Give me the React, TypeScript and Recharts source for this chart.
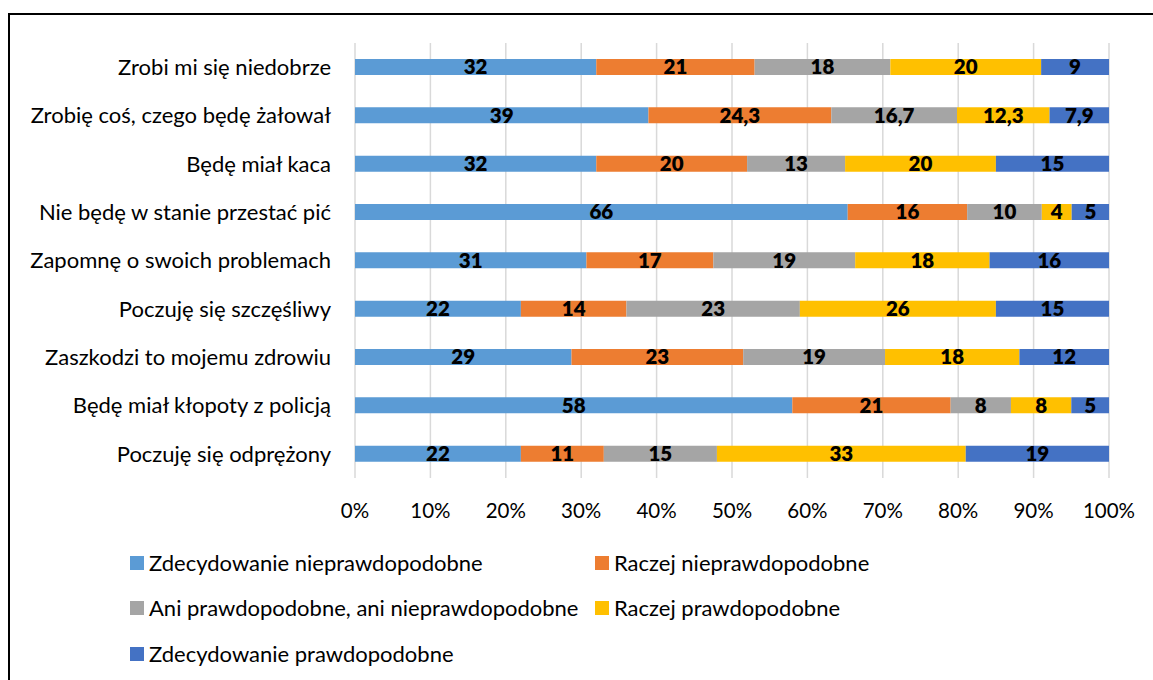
import React from 'react';
import { BarChart, Bar, XAxis, YAxis, CartesianGrid, LabelList } from 'recharts';

const categories = [
  'Zrobi mi się niedobrze',
  'Zrobię coś, czego będę żałował',
  'Będę miał kaca',
  'Nie będę w stanie przestać pić',
  'Zapomnę o swoich problemach',
  'Poczuję się szczęśliwy',
  'Zaszkodzi to mojemu zdrowiu',
  'Będę miał kłopoty z policją',
  'Poczuję się odprężony',
];

const zdecydowanieNie = [32, 39, 32, 66, 31, 22, 29, 58, 22];
const raczejNie = [21, 24.3, 20, 16, 17, 14, 23, 21, 11];
const aniAni = [18, 16.7, 13, 10, 19, 23, 19, 8, 15];
const raczejTak = [20, 12.3, 20, 4, 18, 26, 18, 8, 33];
const zdecydowanieTak = [9, 7.9, 15, 5, 16, 15, 12, 5, 19];

const seriesNames = [
  'Zdecydowanie nieprawdopodobne',
  'Raczej nieprawdopodobne',
  'Ani prawdopodobne, ani nieprawdopodobne',
  'Raczej prawdopodobne',
  'Zdecydowanie prawdopodobne',
];
const seriesKeys = ['s0', 's1', 's2', 's3', 's4'];
const seriesValues = [zdecydowanieNie, raczejNie, aniAni, raczejTak, zdecydowanieTak];
const colors = ['#5B9BD5', '#ED7D31', '#A5A5A5', '#FFC000', '#4472C4'];

const xTicks = [0, 0.1, 0.2, 0.3, 0.4, 0.5, 0.6, 0.7, 0.8, 0.9, 1];

const data = categories.map((c, i) => {
  const row: Record<string, any> = { name: c };
  seriesKeys.forEach((k, j) => {
    row[k] = seriesValues[j][i];
  });
  return row;
});

const FONT = 'Lato, "Open Sans", sans-serif';
const FS_TEXT = 22;
const FS_NUM = 20.5;
const FS_LABEL = 20.5;

const legendItems = [
  { idx: 0, left: 130, top: 556 },
  { idx: 1, left: 595, top: 556 },
  { idx: 2, left: 130, top: 601 },
  { idx: 3, left: 595, top: 601 },
  { idx: 4, left: 130, top: 647 },
];

export default function App() {
  return (
    <div
      style={{
        position: 'fixed',
        left: 0,
        top: 0,
        width: 1153,
        height: 680,
        background: '#fff',
        overflow: 'hidden',
        fontFamily: FONT,
        color: '#000',
      }}
    >
      <div
        style={{
          position: 'absolute',
          left: 8,
          top: 13,
          width: 1200,
          height: 700,
          borderTop: '2px solid #000',
          borderLeft: '2px solid #000',
        }}
      />
      <div style={{ position: 'absolute', left: 0, top: 0 }}>
        <BarChart
          width={1153}
          height={680}
          data={data}
          layout="vertical"
          stackOffset="expand"
          barSize={16}
          margin={{ top: 43, right: 44, left: 0, bottom: 172 }}
        >
          <CartesianGrid horizontal={false} stroke="#d9d9d9" strokeWidth={1.5} />
          <XAxis
            type="number"
            domain={[0, 1]}
            ticks={xTicks}
            tickFormatter={(v: number) => `${Math.round(v * 100)}%`}
            axisLine={false}
            tickLine={false}
            tickSize={0}
            tickMargin={25}
            height={30}
            interval={0}
            tick={{ fill: '#000', fontSize: FS_NUM, fontFamily: FONT }}
          />
          <YAxis
            type="category"
            dataKey="name"
            width={355}
            axisLine={false}
            tickLine={false}
            tickSize={0}
            tickMargin={24}
            interval={0}
            tick={{ fill: '#000', fontSize: FS_TEXT, fontFamily: FONT }}
          />
          {seriesKeys.map((k, j) => (
            <Bar
              key={k}
              dataKey={k}
              name={seriesNames[j]}
              stackId="a"
              fill={colors[j]}
              isAnimationActive={false}
            >
              <LabelList
                dataKey={k}
                position="center"
                fill="#000"
                fontWeight={800}
                fontSize={FS_LABEL}
                fontFamily={FONT}
                formatter={(v: any) => String(v).replace('.', ',')}
              />
            </Bar>
          ))}
        </BarChart>
      </div>
      {legendItems.map((it) => (
        <div
          key={it.idx}
          style={{
            position: 'absolute',
            left: it.left,
            top: it.top,
            height: 14,
            display: 'flex',
            alignItems: 'center',
            whiteSpace: 'nowrap',
          }}
        >
          <div style={{ width: 14, height: 14, background: colors[it.idx], marginRight: 5, flexShrink: 0 }} />
          <span style={{ fontSize: FS_TEXT, lineHeight: '14px' }}>{seriesNames[it.idx]}</span>
        </div>
      ))}
    </div>
  );
}
